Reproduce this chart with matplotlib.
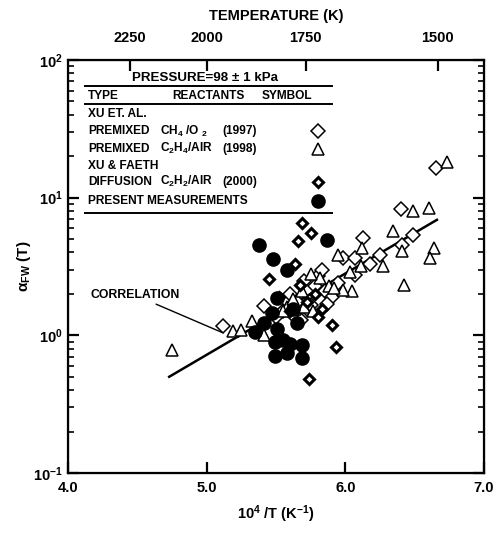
import numpy as np
import matplotlib
matplotlib.use("Agg")
import matplotlib.pyplot as plt
from matplotlib.ticker import LogLocator, FixedLocator, NullFormatter

plt.rcParams['font.family'] = ['Liberation Sans', 'DejaVu Sans']
plt.rcParams['font.weight'] = 'bold'
plt.rcParams['axes.labelweight'] = 'bold'
plt.rcParams['mathtext.fontset'] = 'custom'
plt.rcParams['mathtext.rm'] = 'Liberation Sans:bold'
plt.rcParams['mathtext.it'] = 'Liberation Sans:bold'
plt.rcParams['mathtext.bf'] = 'Liberation Sans:bold'
plt.rcParams['mathtext.default'] = 'rm'

# Xu et al. premixed CH4/O2 (1997) - open diamonds
xu97_x = [6.65, 6.40, 6.49, 6.13, 6.41, 5.98, 6.07, 6.25, 6.18, 6.07,
          5.12, 5.41, 5.60, 5.65, 5.72, 5.78, 5.85, 5.90, 5.70, 5.55,
          5.62, 5.80, 5.95, 5.75, 5.50, 5.87, 5.68, 5.83]
xu97_y = [16.3, 8.3, 5.37, 5.1, 4.54, 3.65, 3.65, 3.84, 3.3, 2.74,
          1.16, 1.63, 2.0, 1.75, 1.55, 2.3, 2.1, 1.9, 2.5, 1.5,
          1.4, 2.7, 2.4, 1.65, 1.35, 1.7, 1.3, 3.0]

# Xu et al. premixed C2H4/air (1998) - open triangles
xu98_x = [6.73, 6.49, 6.60, 6.34, 6.12, 6.41, 6.64, 6.61, 6.42, 5.95,
          6.27, 6.11, 6.05, 5.98, 5.69, 4.75, 5.19, 5.25, 5.33, 5.41,
          5.58, 5.64, 5.70, 5.77, 5.82, 5.88, 5.75, 5.62, 5.92, 5.55, 6.03]
xu98_y = [18.0, 8.0, 8.45, 5.74, 4.31, 4.1, 4.31, 3.65, 2.32, 3.84,
          3.19, 3.19, 2.1, 2.13, 2.1, 0.78, 1.07, 1.09, 1.27, 1.0,
          1.6, 1.55, 1.6, 1.5, 2.6, 2.3, 2.8, 1.85, 2.2, 1.5, 2.9]

# Xu & Faeth diffusion C2H2/air (2000) - bold diamonds
diff_x = [5.69, 5.75, 5.66, 5.45, 5.64, 5.67, 5.90, 5.93, 5.74, 5.83,
          5.72, 5.78, 5.52, 5.60, 5.80]
diff_y = [6.57, 5.55, 4.85, 2.56, 3.3, 2.32, 1.18, 0.82, 0.48, 1.55,
          1.75, 2.0, 1.9, 1.5, 1.35]

# present measurements - filled circles
pres_x = [5.38, 5.48, 5.58, 5.87, 5.51, 5.47, 5.41, 5.51, 5.65, 5.60,
          5.69, 5.69, 5.58, 5.55, 5.49, 5.49, 5.35, 5.62]
pres_y = [4.54, 3.59, 2.98, 4.94, 1.86, 1.45, 1.22, 1.12, 1.22, 0.87,
          0.85, 0.68, 0.74, 0.92, 0.90, 0.71, 1.05, 1.55]

# correlation line end points
corr_x = [4.73, 6.66]
corr_y = [0.50, 6.9]

temps = [2250, 2000, 1750, 1500]
yticks = [0.1, 1, 10, 100]
ylabels = [r'$10^{-1}$', r'$10^{0}$', r'$10^{1}$', r'$10^{2}$']

fig = plt.figure(figsize=(4.96, 5.33), dpi=100)
ax = fig.add_axes([0.137, 0.1126, 0.839, 0.7749])

ax.plot(corr_x, corr_y, color='black', lw=1.8, zorder=2)
ax.plot(xu97_x, xu97_y, 'D', ms=6.8, mfc='white', mec='black', mew=1.1, zorder=3)
ax.plot(xu98_x, xu98_y, '^', ms=8, mfc='white', mec='black', mew=1.1, zorder=3)
ax.plot(diff_x, diff_y, 'D', ms=5, mfc='white', mec='black', mew=2.2, zorder=4)
ax.plot(pres_x, pres_y, 'o', ms=9.5, color='black', zorder=5)

ax.annotate('CORRELATION', xy=(5.11, 1.05), xytext=(4.81, 1.95),
            ha='right', va='center', fontsize=8.8,
            arrowprops=dict(arrowstyle='-', color='black', lw=1.0,
                            shrinkA=0, shrinkB=0))

ax.set_yscale('log')
ax.set_xlim(4.0, 7.0)
ax.set_ylim(0.1, 100)
ax.set_xticks([4.0, 5.0, 6.0, 7.0])
ax.set_xticklabels(['4.0', '5.0', '6.0', '7.0'])
ax.set_yticks(yticks)
ax.set_yticklabels(ylabels)
ax.yaxis.set_minor_locator(LogLocator(base=10, subs=np.arange(2, 10)))
ax.yaxis.set_minor_formatter(NullFormatter())
ax.tick_params(axis='both', which='major', direction='in', length=8, width=1.6,
               labelsize=10.5, right=True)
ax.tick_params(axis='y', which='minor', direction='in', length=4, width=1.2, right=True)
ax.tick_params(axis='x', pad=6)
for s in ax.spines.values():
    s.set_linewidth(1.6)

ax.set_xlabel(r'10$^4$ /T (K$^{-1}$)', fontsize=10.5, labelpad=6)
ax.set_ylabel(r'$\alpha_{FW}$ (T)', fontsize=11, labelpad=0)

ax2 = ax.twiny()
ax2.set_xlim(ax.get_xlim())
ax2.xaxis.set_major_locator(FixedLocator([1e4 / t for t in temps]))
ax2.set_xticklabels([str(t) for t in temps])
ax2.tick_params(axis='x', direction='in', length=8, width=1.6, labelsize=10.5, pad=11)
ax2.set_xlabel('TEMPERATURE (K)', fontsize=10.5, labelpad=8)

# legend table
tr = ax.transAxes
for yy in [0.937, 0.893, 0.630]:
    ax.plot([0.041, 0.635], [yy, yy], color='black', lw=1.4, transform=tr, zorder=6)
fs = 8.6
ax.text(0.33, 0.956, u'PRESSURE=98 \u00b1 1 kPa', transform=tr, ha='center', va='center', fontsize=9.6)
ax.text(0.048, 0.912, 'TYPE', transform=tr, va='center', fontsize=fs)
ax.text(0.25, 0.912, 'REACTANTS', transform=tr, va='center', fontsize=fs)
ax.text(0.466, 0.912, 'SYMBOL', transform=tr, va='center', fontsize=fs)
ax.text(0.048, 0.869, 'XU ET. AL.', transform=tr, va='center', fontsize=fs)
ax.text(0.048, 0.828, 'PREMIXED', transform=tr, va='center', fontsize=fs)
ax.text(0.221, 0.828, r'CH$_4$ /O $_2$', transform=tr, va='center', fontsize=fs)
ax.text(0.370, 0.828, '(1997)', transform=tr, va='center', fontsize=fs)
ax.text(0.048, 0.785, 'PREMIXED', transform=tr, va='center', fontsize=fs)
ax.text(0.221, 0.785, r'C$_2$H$_4$/AIR', transform=tr, va='center', fontsize=fs)
ax.text(0.370, 0.785, '(1998)', transform=tr, va='center', fontsize=fs)
ax.text(0.048, 0.743, 'XU & FAETH', transform=tr, va='center', fontsize=fs)
ax.text(0.048, 0.705, 'DIFFUSION', transform=tr, va='center', fontsize=fs)
ax.text(0.221, 0.705, r'C$_2$H$_2$/AIR', transform=tr, va='center', fontsize=fs)
ax.text(0.370, 0.705, '(2000)', transform=tr, va='center', fontsize=fs)
ax.text(0.048, 0.659, 'PRESENT MEASUREMENTS', transform=tr, va='center', fontsize=fs)
ax.plot([0.601], [0.828], 'D', ms=6.8, mfc='white', mec='black', mew=1.1, transform=tr, clip_on=False)
ax.plot([0.601], [0.785], '^', ms=8, mfc='white', mec='black', mew=1.1, transform=tr, clip_on=False)
ax.plot([0.601], [0.705], 'D', ms=5, mfc='white', mec='black', mew=2.2, transform=tr, clip_on=False)
ax.plot([0.601], [0.659], 'o', ms=9.5, color='black', transform=tr, clip_on=False)

fig.savefig('out.png', dpi=100)
